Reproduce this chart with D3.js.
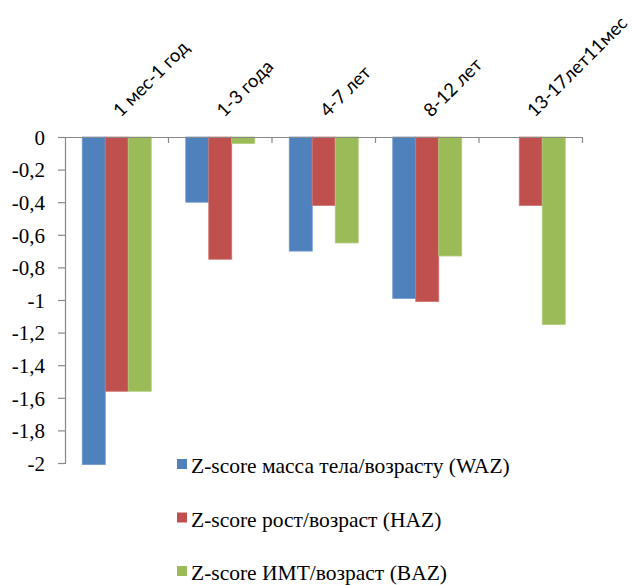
<!DOCTYPE html>
<html>
<head>
<meta charset="utf-8">
<script src="https://cdn.jsdelivr.net/npm/d3@7"></script>
<style>
  html, body { margin: 0; padding: 0; background: #fff; }
  svg { display: block; }
</style>
</head>
<body>
<svg id="chart" width="632" height="585"></svg>
<script>
// Age groups along the (top) category axis
const categories = ["1 мес-1 год", "1-3 года", "4-7 лет", "8-12 лет", "13-17лет11мес"];

// Mean z-scores per age group
const waz = [-2.01, -0.40, -0.70, -0.99, null];
const haz = [-1.56, -0.75, -0.42, -1.01, -0.42];
const baz = [-1.56, -0.04, -0.65, -0.73, -1.15];

const seriesNames = [
  "Z-score масса тела/возрасту (WAZ)",
  "Z-score рост/возраст (HAZ)",
  "Z-score ИМТ/возраст (BAZ)"
];
const seriesColors = ["#4F81BD", "#C0504D", "#9BBB59"];
const seriesBorders = ["#6f98cc", "#cf7472", "#b0cc7a"];

const yTicks = [0, -0.2, -0.4, -0.6, -0.8, -1, -1.2, -1.4, -1.6, -1.8, -2];

const seriesValues = [waz, haz, baz];

const serifFont = "'Liberation Serif', 'Times New Roman', serif";

const svg = d3.select("#chart");

const plot = { left: 65, right: 582.5, top: 137, bottom: 463 };

const x = d3.scaleBand()
  .domain(categories)
  .range([plot.left, plot.right]);

const inner = d3.scaleBand()
  .domain(d3.range(seriesNames.length))
  .range([0, x.bandwidth()])
  .paddingOuter(0.75);

const y = d3.scaleLinear()
  .domain([-2, 0])
  .range([plot.bottom, plot.top]);

const fmt = v => String(v).replace(".", ",");

// Bars
const rows = [];
seriesValues.forEach((vals, s) => {
  vals.forEach((v, i) => {
    if (v !== null) rows.push({ s, cat: categories[i], v });
  });
});

svg.append("g")
  .selectAll("rect")
  .data(rows)
  .join("rect")
  .attr("x", d => x(d.cat) + inner(d.s))
  .attr("y", y(0))
  .attr("width", inner.bandwidth())
  .attr("height", d => y(d.v) - y(0))
  .attr("fill", d => seriesColors[d.s])
  .attr("stroke", d => seriesBorders[d.s])
  .attr("stroke-width", 0.8);

// Value axis
const gy = svg.append("g")
  .attr("transform", `translate(${plot.left},0)`)
  .call(d3.axisLeft(y).tickValues(yTicks).tickSize(7).tickFormat(fmt));
gy.select(".domain").attr("stroke", "#888").attr("stroke-width", 1.2);
gy.selectAll(".tick line").attr("stroke", "#888").attr("stroke-width", 1.2);
gy.selectAll(".tick text")
  .attr("x", -20)
  .attr("dy", "0.35em")
  .attr("fill", "#000")
  .style("font-family", serifFont)
  .attr("font-size", 21);

// Category axis along the zero line
const gx = svg.append("g")
  .attr("transform", `translate(0,${y(0)})`)
  .call(d3.axisBottom(x).tickSize(0).tickFormat(""));
gx.select(".domain").attr("stroke", "#888").attr("stroke-width", 1.2);
gx.selectAll(".tick").remove();

// Boundary ticks between categories
const bounds = categories.slice(1).map(c => x(c)).concat([plot.right]);
svg.append("g")
  .selectAll("line")
  .data(bounds)
  .join("line")
  .attr("x1", d => d).attr("x2", d => d)
  .attr("y1", y(0)).attr("y2", y(0) + 6)
  .attr("stroke", "#888")
  .attr("stroke-width", 1.2);

// Rotated category labels above the axis
svg.append("g")
  .selectAll("text")
  .data(categories)
  .join("text")
  .attr("transform", d => `translate(${x(d) + x.bandwidth() / 2 + 4},${y(0) - 19}) rotate(-45)`)
  .attr("text-anchor", "start")
  .attr("fill", "#000")
  .attr("font-family", "Lato")
  .attr("font-size", 18.5)
  .text(d => d);

// Legend
const legend = svg.append("g")
  .selectAll("g")
  .data(seriesNames)
  .join("g")
  .attr("transform", (d, i) => `translate(177,${473 + i * 53.5})`);

legend.append("rect")
  .attr("x", 0)
  .attr("y", -14)
  .attr("width", 10)
  .attr("height", 10)
  .attr("fill", (d, i) => seriesColors[i]);

legend.append("text")
  .attr("x", 14)
  .attr("y", 0)
  .attr("fill", "#000")
  .style("font-family", serifFont)
  .attr("font-size", 21.5)
  .text(d => d);
</script>
</body>
</html>
